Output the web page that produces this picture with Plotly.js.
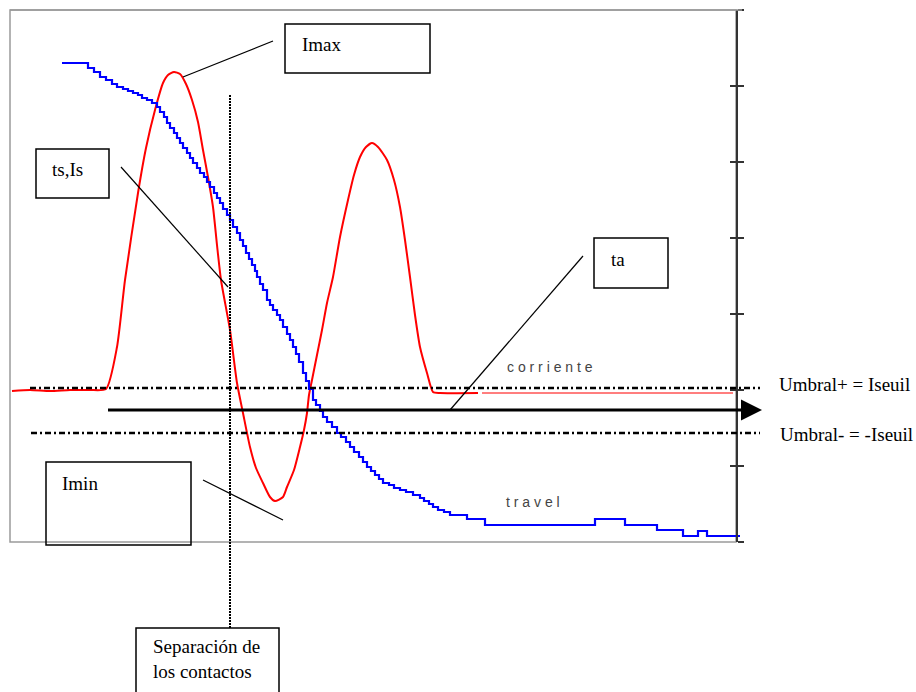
<!DOCTYPE html>
<html>
<head>
<meta charset="utf-8">
<script src="https://cdn.plot.ly/plotly-3.0.1.min.js"></script>
<style>html,body{margin:0;padding:0;background:#fff}#chart{width:916px;height:692px}</style>
</head>
<body>
<div id="chart"></div>
<script>
// Time axis t (arbitrary units, 0..726 across the frame), value axis v (0..532 across the frame)
const currentT = [2,20,40,60,80,96,107,115,128,136,145,153,158,164,170,176,182,188,193,198,203,207,211,220,227,233,240,246,253,260,265,273,277,284,290,294,297,299,302,307,312,317,323,330,338,344,350,356,362,368,377,384,390,395,400,405,410,417,423,430,468];
const currentV = [151,152,151,152,152,153,195,262,349,394,432,459,467,470,468,458,442,420,392,365,335,297,262,212,159,129,95,74,59,45,41,45,55,72,95,112,129,147,162,187,212,239,265,305,342,367,385,395,399,395,382,362,335,302,265,227,195,169,150,149,149];
const currentTailT = [472,723];
const currentTailV = [149,149];

const travelT = [52,72,78,84,90,96,102,107,113,118,123,128,132,137,142,147,150,154,157,160,164,167,170,173,177,180,183,187,190,194,197,200,204,207,210,213,217,220,223,227,230,233,236,239,242,245,247,250,253,257,260,263,267,270,273,277,280,283,286,289,293,296,299,303,306,310,313,317,322,327,331,336,340,344,349,353,357,361,365,369,373,379,384,390,396,403,410,414,419,423,428,434,440,457,475,585,615,647,673,688,697,730];
const travelV = [479,479,474,470,465,462,458,455,453,451,449,447,444,442,439,435,430,425,419,414,409,404,399,394,389,384,379,374,369,365,360,355,349,344,339,333,327,322,315,309,302,296,289,283,277,271,265,258,252,242,237,232,227,222,215,208,202,195,188,180,169,161,153,142,137,131,125,120,115,109,105,100,95,90,85,80,75,71,67,63,59,57,54,52,50,47,44,41,38,35,32,30,27,23,17,23,17,12,6,11,6,6];

const thresholdPlus = 154;
const thresholdMinus = 109;
const zeroLevel = 132;
const separationT = 220;
const axisTicks = [0,76,152,228,304,380,456,532];

const serif = "'Liberation Serif', 'Times New Roman', serif";
const sans = "'Liberation Sans', Arial, sans-serif";

const traces = [
  {x: currentT, y: currentV, type:'scatter', mode:'lines', line:{color:'#ff0000', width:2, shape:'spline', smoothing:0.6}, hoverinfo:'skip'},
  {x: currentTailT, y: currentTailV, type:'scatter', mode:'lines', line:{color:'rgba(255,40,40,0.6)', width:2}, hoverinfo:'skip'},
  {x: travelT, y: travelV, type:'scatter', mode:'lines', line:{color:'#0000ff', width:2.2, shape:'hv'}, hoverinfo:'skip'},
  {x:[0], y:[0], xaxis:'x2', yaxis:'y2', type:'scatter', mode:'markers', marker:{opacity:0}, hoverinfo:'skip'},
  {x:[0], y:[0], xaxis:'x2', yaxis:'y3', type:'scatter', mode:'markers', marker:{opacity:0}, hoverinfo:'skip'}
];

function box(x0,x1,y0,y1){return {type:'rect', xref:'x', yref:'y', x0:x0, x1:x1, y0:y0, y1:y1, line:{color:'#000', width:1.5}, fillcolor:'rgba(0,0,0,0)'};}
function seg(x0,y0,x1,y1,w,dash){return {type:'line', xref:'x', yref:'y', x0:x0, y0:y0, x1:x1, y1:y1, line:{color:'#000', width:w||1.2, dash:dash||'solid'}};}

const shapes = [
  // frame
  {type:'rect', xref:'x', yref:'y', x0:0, x1:726, y0:0, y1:532, line:{color:'#9a9a9a', width:1.5}, layer:'below'},
  {type:'line', xref:'x', yref:'y', x0:0, x1:732, y0:532, y1:532, line:{color:'#9a9a9a', width:1.5}},
  // thresholds
  seg(20, thresholdPlus, 750, thresholdPlus, 2.5, '6px,3px,2px,3px'),
  seg(21, thresholdMinus, 750, thresholdMinus, 2.5, '6px,3px,2px,3px'),
  // zero line
  seg(98, zeroLevel, 742, zeroLevel, 3),
  // separation dotted line
  seg(separationT, 447, separationT, -86, 2, '2px,1px'),
  // boxes
  box(275,420,469,518),
  box(26,99,344,393),
  box(584,658,254,304),
  box(36,181,-3,80),
  box(126,269,-160,-86),
  // pointers
  seg(263,501,173,465),
  seg(111,375,218,255),
  seg(573,286,440,132),
  seg(193,62,273,22)
];

const annotations = [
  {x:752, y:zeroLevel, ax:735, ay:zeroLevel, xref:'x', yref:'y', axref:'x', ayref:'y', text:'', showarrow:true, arrowhead:2, arrowsize:1.4, arrowwidth:3, arrowcolor:'#000'},
  {x:290, y:498, xref:'x', yref:'y', text:'Imax', showarrow:false, xanchor:'left', yanchor:'middle', font:{family:serif, size:19, color:'#000'}},
  {x:40, y:373, xref:'x', yref:'y', text:'ts,Is', showarrow:false, xanchor:'left', yanchor:'middle', font:{family:serif, size:19, color:'#000'}},
  {x:599, y:283, xref:'x', yref:'y', text:'ta', showarrow:false, xanchor:'left', yanchor:'middle', font:{family:serif, size:19, color:'#000'}},
  {x:50, y:59, xref:'x', yref:'y', text:'Imin', showarrow:false, xanchor:'left', yanchor:'middle', font:{family:serif, size:19, color:'#000'}},
  {x:141, y:-117, xref:'x', yref:'y', text:'Separación de<br>los contactos', showarrow:false, xanchor:'left', yanchor:'middle', align:'left', font:{family:serif, size:19, color:'#000'}},
  {x:495, y:175, xref:'x', yref:'y', text:'c o r r i e n t e', showarrow:false, xanchor:'left', yanchor:'middle', font:{family:sans, size:14, color:'#444'}},
  {x:494, y:40, xref:'x', yref:'y', text:'t r a v e l', showarrow:false, xanchor:'left', yanchor:'middle', font:{family:sans, size:14, color:'#444'}},
  {x:767, y:158, xref:'x', yref:'y', text:'Umbral+ = Iseuil', showarrow:false, xanchor:'left', yanchor:'middle', font:{family:serif, size:19, color:'#000'}},
  {x:768, y:108, xref:'x', yref:'y', text:'Umbral- = -Iseuil', showarrow:false, xanchor:'left', yanchor:'middle', font:{family:serif, size:19, color:'#000'}}
];

const layout = {
  width:916, height:692, margin:{l:0,r:0,t:0,b:0}, showlegend:false,
  paper_bgcolor:'#fff', plot_bgcolor:'rgba(0,0,0,0)',
  xaxis:{range:[-10,906], domain:[0,1], visible:false, fixedrange:true},
  yaxis:{range:[-150,542], domain:[0,1], visible:false, fixedrange:true},
  xaxis2:{domain:[10/916, 736/916], range:[0,1], visible:false, anchor:'y2'},
  yaxis2:{domain:[150/692, 682/692], range:[0,532], anchor:'x2', side:'right', showline:true, linecolor:'#333', linewidth:2, ticks:'outside', ticklen:6, tickwidth:1.5, tickcolor:'#333', tickvals:axisTicks, showticklabels:false, showgrid:false, zeroline:false},
  yaxis3:{overlaying:'y2', range:[0,532], side:'right', anchor:'x2', showline:false, ticks:'inside', ticklen:6, tickwidth:1.5, tickcolor:'#333', tickvals:axisTicks, showticklabels:false, showgrid:false, zeroline:false},
  shapes: shapes,
  annotations: annotations
};

Plotly.newPlot('chart', traces, layout, {staticPlot:true, displayModeBar:false});
</script>
</body>
</html>
